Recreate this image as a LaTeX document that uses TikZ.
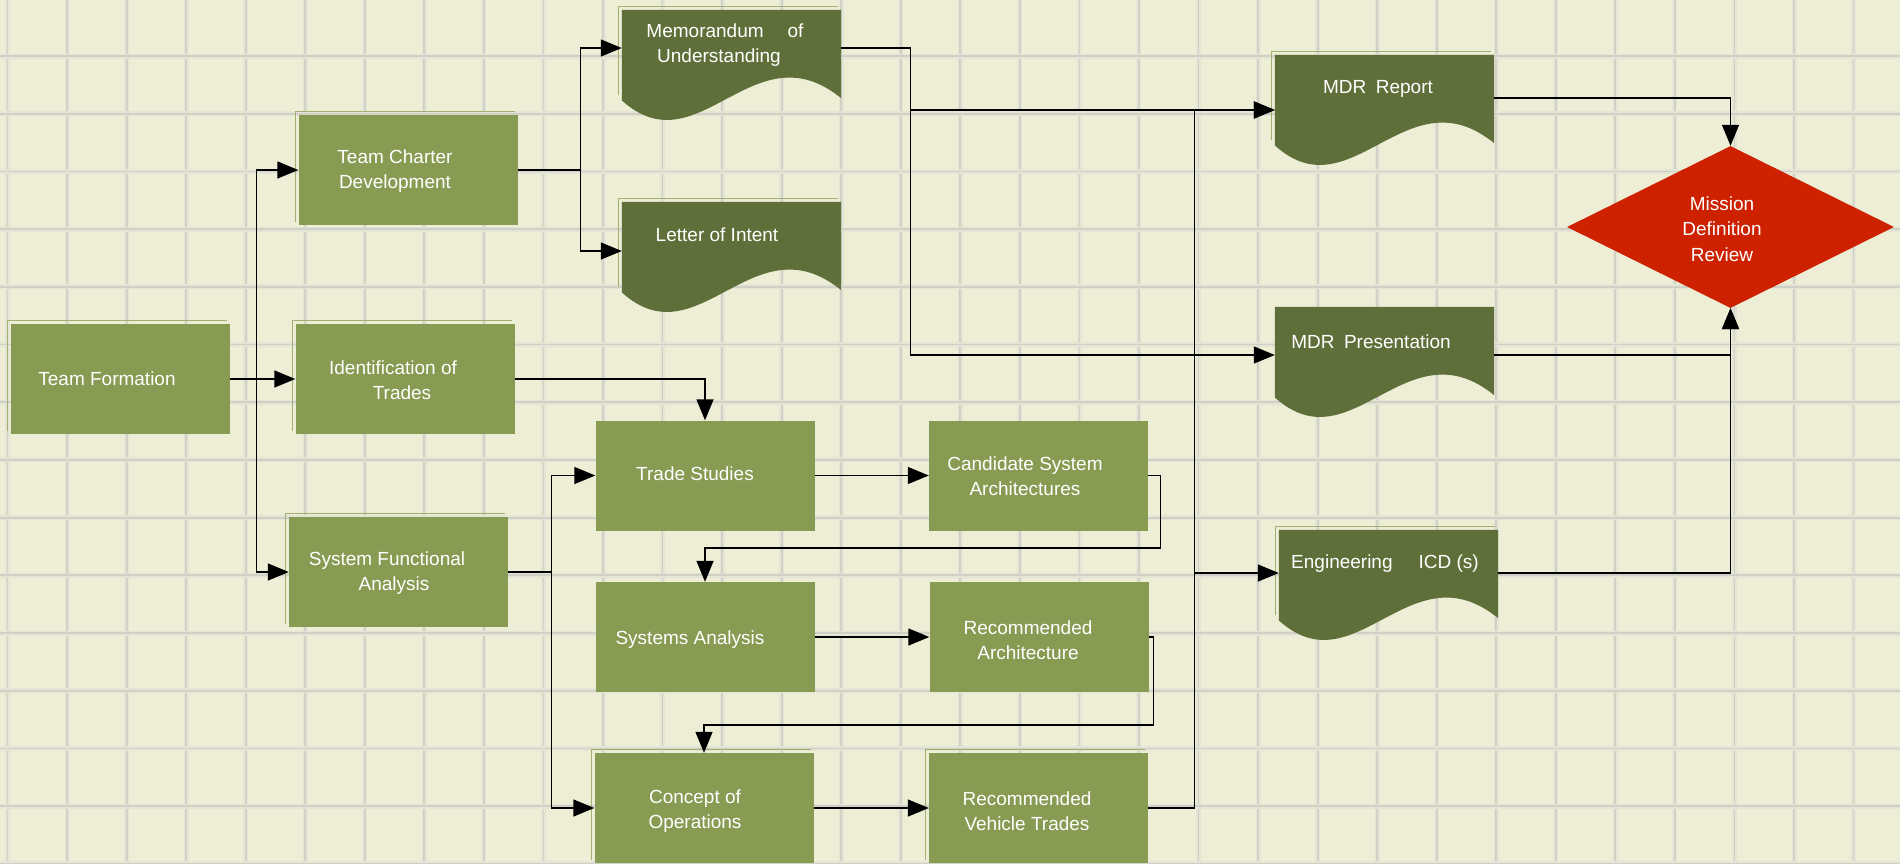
\documentclass[tikz,border=0pt]{standalone}
\usepackage{fontspec}
\setmainfont{Liberation Sans}
\usetikzlibrary{arrows.meta,shapes.geometric,calc}

\definecolor{paper}{RGB}{238,238,215}
\definecolor{gridsoft}{RGB}{229,229,214}
\definecolor{gridcore}{RGB}{208,208,199}
\definecolor{procgreen}{RGB}{136,155,82}
\definecolor{docgreen}{RGB}{95,111,58}
\definecolor{ghostgreen}{RGB}{160,176,112}
\definecolor{revred}{RGB}{205,33,0}

% document symbol: flat top, wavy bottom edge
\newcommand\wavydoc[1]{%
  \fill[docgreen] (#1.north west) -- (#1.north east) -- ([yshift=22pt]#1.south east)
    .. controls ([xshift=131.4pt,yshift=93.5pt]#1.south west) and ([xshift=76.7pt,yshift=-49.5pt]#1.south west)
    .. ([yshift=19.8pt]#1.south west) -- cycle;}

\tikzset{
  proc/.style={fill=procgreen, minimum width=219pt, minimum height=110pt, inner sep=0pt},
  docnode/.style={minimum width=219pt, minimum height=110pt, inner sep=0pt},
  review/.style={diamond, fill=revred, minimum width=327pt, minimum height=162pt, inner sep=0pt},
  lbl/.style={text=white, align=center, inner sep=0pt, font=\fontsize{19pt}{24.5pt}\selectfont},
  conn/.style={line width=1.4pt, draw=black, -{Triangle[length=21pt,width=17pt]}},
  ghost/.style={draw=ghostgreen, line width=1pt},
}

\begin{document}
\begin{tikzpicture}[x=1pt,y=-1pt]
  % paper and grid
  \fill[paper] (0,0) rectangle (1900,863);
  \useasboundingbox (0,0) rectangle (1900,863);
  \foreach \k in {0,...,31} {
    \draw[gridsoft, line width=5pt] ({7.5+\k*59.55},0) -- ++(0,863);
    \draw[gridcore, line width=1.8pt] ({7.5+\k*59.55},0) -- ++(0,863);
  }
  \foreach \k in {0,...,14} {
    \draw[gridsoft, line width=5pt] (0,{56+\k*57.7}) -- ++(1900,0);
    \draw[gridcore, line width=1.8pt] (0,{56+\k*57.7}) -- ++(1900,0);
  }

  % process boxes
  \node[proc] (tf)   at (120,379)    {};
  \node[proc] (tc)   at (408,170)    {};
  \node[proc] (iot)  at (405,379)    {};
  \node[proc] (sfa)  at (398.5,572)  {};
  \node[proc] (ts)   at (705,475.5)  {};
  \node[proc] (cand) at (1038.5,475.5) {};
  \node[proc] (sa)   at (705,637)    {};
  \node[proc] (ra)   at (1039,637)   {};
  \node[proc] (co)   at (704,808)    {};
  \node[proc] (rvt)  at (1038.5,808) {};

  % documents
  \node[docnode] (memo) at (731.5,65)   {};
  \node[docnode] (loi)  at (731.5,257)  {};
  \node[docnode] (mdrr) at (1384.5,110) {};
  \node[docnode] (mdrp) at (1384.5,362) {};
  \node[docnode] (eng)  at (1388.5,585) {};
  \foreach \d in {memo,loi,mdrr,mdrp,eng} { \wavydoc{\d} }

  % review gate
  \node[review] (mdr) at (1730.5,227) {};

  % light offset frames behind some boxes
  \foreach \n in {tf,tc,iot,sfa,co,rvt} {
    \draw[ghost] ([shift={(-3,-3)}]\n.south west) -- ([shift={(-3,-3)}]\n.north west) -- ([shift={(-3,-3)}]\n.north east);
  }
  \foreach \n in {memo,loi,mdrr,eng} {
    \draw[ghost] ([shift={(-3,-25)}]\n.south west) -- ([shift={(-3,-3)}]\n.north west) -- ([shift={(-3,-3)}]\n.north east);
  }

  % labels
  \node[lbl] (tft)   at (107,379)  {Team Formation};
  \node[lbl] (tct)   at (395,171)  {Team Charter\\Development};
  \node[lbl] (iott)  at (393,380)  {Identification of\\\hspace*{18pt}Trades};
  \node[lbl] (sfat)  at (387,573)  {System Functional\\\hspace*{14pt}Analysis};
  \node[lbl] (memot) at (725,45)   {Memorandum\hspace{24pt}of\\Understanding\hspace*{12pt}};
  \node[lbl] (loit)  at (717,235)  {Letter of Intent};
  \node[lbl] (tst)   at (695,474)  {Trade Studies};
  \node[lbl] (candt) at (1025,476) {Candidate System\\Architectures};
  \node[lbl] (sat)   at (690,640)  {Systems Analysis};
  \node[lbl] (rat)   at (1028,640) {Recommended\\Architecture};
  \node[lbl] (cot)   at (695,811)  {Concept of\\Operations};
  \node[lbl] (rvtt)  at (1027,811) {Recommended\\Vehicle Trades};
  \node[lbl] (mdrrt) at (1378,89)  {MDR\hspace{0.5em}Report};
  \node[lbl] (mdrpt) at (1371,342) {MDR\hspace{0.5em}Presentation};
  \node[lbl] (engt)  at (1385,564) {Engineering\hspace{26pt}ICD (s)};
  \node[lbl, font=\fontsize{19pt}{25.5pt}\selectfont] (mdrt) at (1722,229) {Mission\\Definition\\Review};

  % connectors
  \draw[conn] (tf.east) -- ++(27,0) |- (tc.west);
  \draw[conn] (tf.east) -- (iot.west);
  \draw[conn] (tf.east) -- ++(27,0) |- (sfa.west);

  \draw[conn] (tc.east) -- ++(63,0) |- ([yshift=17pt]memo.west);
  \draw[conn] (tc.east) -- ++(63,0) |- ([yshift=6pt]loi.west);

  \draw[conn] ([yshift=17pt]memo.east) -- ++(69,0) |- (mdrr.west);
  \draw[conn] ([yshift=17pt]memo.east) -- ++(69,0) |- ([yshift=7pt]mdrp.west);

  \draw[conn] (iot.east) -| (ts.north);
  \draw[conn] (sfa.east) -- ++(43,0) |- (ts.west);
  \draw[conn] (sfa.east) -- ++(43,0) |- (co.west);

  \draw[conn] (ts.east) -- (cand.west);
  \draw[conn] (cand.east) -- ++(12,0) -- ++(0,72.5) -| (sa.north);
  \draw[conn] (sa.east) -- (ra.west);
  \draw[conn] (ra.east) -- ++(5,0) -- ++(0,88) -| (co.north);
  \draw[conn] (co.east) -- (rvt.west);

  \draw[conn] (rvt.east) -- ++(46,0) |- (mdrr.west);
  \draw[conn] (rvt.east) -- ++(46,0) |- ([yshift=12pt]eng.west);

  \draw[conn] ([yshift=12pt]mdrr.east) -| (mdr.north);
  \draw[conn] ([yshift=7pt]mdrp.east) -| (mdr.south);
  \draw[conn] ([yshift=12pt]eng.east) -| (mdr.south);
\end{tikzpicture}
\end{document}
